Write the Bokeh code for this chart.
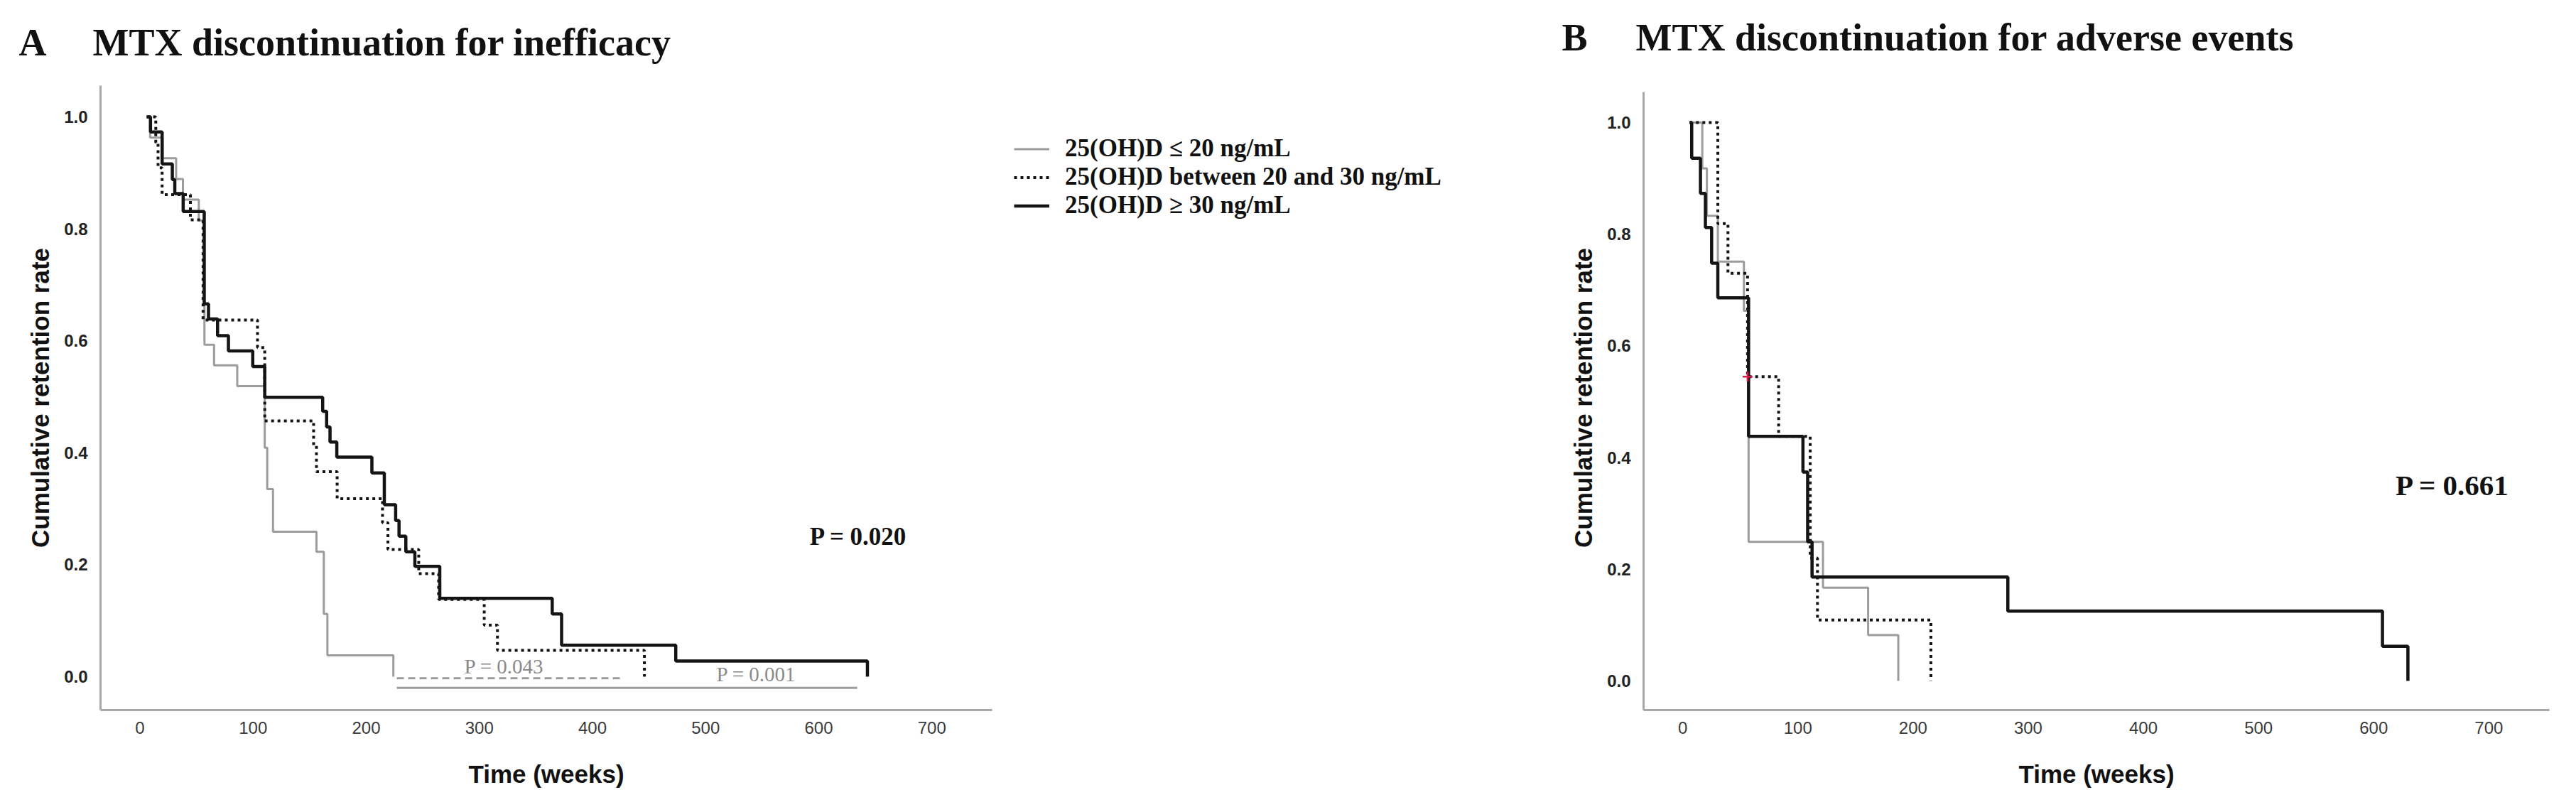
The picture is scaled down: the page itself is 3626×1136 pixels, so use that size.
from bokeh.plotting import figure
from bokeh.layouts import row, column
from bokeh.models import Range1d, FixedTicker, PrintfTickFormatter, Label, Legend, LegendItem
from bokeh.embed import file_html
from bokeh.resources import INLINE

# ---------------- data ----------------
time_ticks = [0, 100, 200, 300, 400, 500, 600, 700]
rate_ticks = [0.0, 0.2, 0.4, 0.6, 0.8, 1.0]
group_labels = ["25(OH)D \u2264 20 ng/mL", "25(OH)D between 20 and 30 ng/mL", "25(OH)D \u2265 30 ng/mL"]

# Panel A: discontinuation for inefficacy (time in weeks, retention rate)
a_low_t = [6, 9, 20, 32, 38, 52, 57, 65.5, 86, 110.3, 112.5, 117.6, 156, 162.5, 165.7, 224]
a_low_s = [1.0, 0.963, 0.926, 0.889, 0.852, 0.815, 0.593, 0.556, 0.519, 0.409, 0.335, 0.259, 0.223, 0.112, 0.038, 0.0]
a_mid_t = [6, 14, 16, 19.6, 44.6, 55.8, 103.9, 110.3, 153.5, 156, 174.3, 214.4, 219.2, 246.4, 264, 304.3, 316, 445.9]
a_mid_s = [1.0, 0.954, 0.909, 0.861, 0.816, 0.637, 0.588, 0.457, 0.413, 0.366, 0.318, 0.275, 0.227, 0.184, 0.138, 0.092, 0.047, 0.0]
a_high_t = [6, 9.3, 19.6, 28.6, 30.8, 38.2, 56.8, 60.6, 68.6, 78.2, 99.7, 110.3, 161.5, 165, 168, 174, 205, 216, 226, 229, 235, 243, 265, 364.4, 372.7, 473.6, 643]
a_high_s = [1.0, 0.973, 0.916, 0.888, 0.863, 0.831, 0.666, 0.639, 0.609, 0.582, 0.554, 0.499, 0.474, 0.446, 0.419, 0.392, 0.364, 0.307, 0.279, 0.251, 0.223, 0.197, 0.140, 0.112, 0.056, 0.028, 0.0]

# Panel A pairwise comparison brackets (start, end, level) and p-values
cmp_low_mid = [227, 426, -0.003]
cmp_low_high = [227, 634, -0.020]
p_overall_a = "P = 0.020"
p_low_mid = "P = 0.043"
p_low_high = "P = 0.001"

# Panel B: discontinuation for adverse events
b_low_t = [6, 17, 21, 30.5, 53.1, 57.2, 121.8, 161, 187.2]
b_low_s = [1.0, 0.918, 0.833, 0.751, 0.663, 0.249, 0.167, 0.082, 0.0]
b_mid_t = [6, 30.5, 39.3, 56.3, 83.3, 110.7, 117, 215.5]
b_mid_s = [1.0, 0.819, 0.730, 0.545, 0.438, 0.220, 0.109, 0.0]
b_high_t = [6, 7.8, 15.4, 19.7, 25.1, 30.5, 57.2, 104.4, 108.5, 112.3, 282.3, 607.6, 629.7]
b_high_s = [1.0, 0.936, 0.873, 0.812, 0.748, 0.686, 0.438, 0.374, 0.249, 0.186, 0.125, 0.062, 0.0]
b_censor_t = [56.3]
b_censor_s = [0.545]
p_overall_b = "P = 0.661"

panel_letters = ["A", "B"]
panel_titles = ["MTX discontinuation for inefficacy", "MTX discontinuation for adverse events"]

# ---------------- geometry (reference pixels) ----------------
A_X0, A_XS, A_Y0, A_YS = 204.5, 1.5925, 960.0, 788.0
B_X0, B_XS, B_Y0, B_YS = 2376.1, 1.6211, 966.0, 786.0
FRAME_TOP, FRAME_BOTTOM = 128, 1007   # frames in a row are aligned by Bokeh


def ax(px):
    return (px - A_X0) / A_XS


def ay(py):
    return (A_Y0 - py) / A_YS


def bx(px):
    return (px - B_X0) / B_XS


def by(py):
    return (B_Y0 - py) / B_YS


GRAY = "#9c9c9c"
BLACK = "#141414"
TOP_BORDER = FRAME_TOP - 108
BOTTOM_BORDER = 1128 - FRAME_BOTTOM


def style(p):
    p.grid.visible = False
    p.outline_line_color = None
    p.background_fill_color = "white"
    p.border_fill_color = "white"
    p.xaxis.ticker = FixedTicker(ticks=time_ticks)
    p.yaxis.ticker = FixedTicker(ticks=rate_ticks)
    p.yaxis.formatter = PrintfTickFormatter(format="%.1f")
    p.xaxis.axis_label = "Time (weeks)"
    p.yaxis.axis_label = "Cumulative retention rate"
    for a in (p.xaxis[0], p.yaxis[0]):
        a.axis_line_color = "#a8a8a8"
        a.axis_line_width = 3
        a.major_tick_line_color = None
        a.minor_tick_line_color = None
        a.major_tick_in = 0
        a.major_tick_out = 0
        a.minor_tick_in = 0
        a.minor_tick_out = 0
        a.major_label_text_font = "Liberation Sans"
        a.major_label_text_font_size = "24px"
        a.axis_label_text_font = "Liberation Sans"
        a.axis_label_text_font_size = "35px"
        a.axis_label_text_font_style = "bold"
        a.axis_label_text_color = "#111111"
    p.xaxis.major_label_text_color = "#3a3a3a"
    p.yaxis.major_label_text_color = "#222222"
    p.yaxis.major_label_text_font_style = "bold"
    p.xaxis.major_label_standoff = 16
    p.yaxis.major_label_standoff = 18
    p.xaxis.axis_label_standoff = 34
    p.yaxis.axis_label_standoff = 11


def bare(p):
    p.grid.visible = False
    p.outline_line_color = None
    p.background_fill_color = "white"
    p.border_fill_color = "white"


def draw_curves(p, low_t, low_s, mid_t, mid_s, high_t, high_s):
    r1 = p.step(low_t, low_s, mode="after", line_color=GRAY, line_width=3)
    r2 = p.step(mid_t, mid_s, mode="after", line_color=BLACK, line_width=4, line_dash="4 5")
    r3 = p.step(high_t, high_s, mode="after", line_color=BLACK, line_width=4.5)
    return r1, r2, r3


def serif_label(p, x, y, text, size, color="#111111", bold=True, align="center", baseline="middle"):
    p.add_layout(Label(x=x, y=y, text=text, text_font="Liberation Serif",
                       text_font_size=size, text_font_style="bold" if bold else "normal",
                       text_color=color, text_align=align, text_baseline=baseline))


# ---------------- title strip (coordinates = reference pixels) ----------------
pT = figure(width=3610, height=100, output_backend="svg", toolbar_location=None, title_location=None,
            x_range=Range1d(8, 3618), y_range=Range1d(108, 8),
            x_axis_location=None, y_axis_location=None, min_border=0)
bare(pT)
serif_label(pT, 34, 67, panel_letters[0], "54px", align="left", baseline="alphabetic")
serif_label(pT, 138, 67, panel_titles[0], "54px", align="left", baseline="alphabetic")
serif_label(pT, 2206, 60, panel_letters[1], "54px", align="left", baseline="alphabetic")
serif_label(pT, 2310, 60, panel_titles[1], "54px", align="left", baseline="alphabetic")

# ---------------- Panel A ----------------
pA = figure(width=1412, height=1020, output_backend="svg", toolbar_location=None, title_location=None,
            x_range=Range1d(ax(149), ax(1404)), y_range=Range1d(ay(FRAME_BOTTOM), ay(FRAME_TOP)),
            min_border_left=141, min_border_right=16,
            min_border_top=TOP_BORDER, min_border_bottom=BOTTOM_BORDER)
style(pA)
draw_curves(pA, a_low_t, a_low_s, a_mid_t, a_mid_s, a_high_t, a_high_s)

pA.line(cmp_low_mid[:2], [cmp_low_mid[2]] * 2, line_color=GRAY, line_width=3, line_dash="10 6")
pA.line(cmp_low_high[:2], [cmp_low_high[2]] * 2, line_color=GRAY, line_width=3)

serif_label(pA, ax(1216), ay(763), p_overall_a, "35px")
serif_label(pA, ax(717), ay(945), p_low_mid, "29px", color="#8a8a8a", bold=False)
serif_label(pA, ax(1072), ay(956), p_low_high, "29px", color="#8a8a8a", bold=False)

# ---------------- legend strip (between the two panels) ----------------
pL = figure(width=730, height=1020, output_backend="svg", toolbar_location=None, title_location=None,
            x_range=Range1d(-2000, -1000), y_range=Range1d(-2, -1),
            x_axis_location=None, y_axis_location=None,
            min_border_left=0, min_border_right=0,
            min_border_top=TOP_BORDER, min_border_bottom=BOTTOM_BORDER)
bare(pL)
rl1, rl2, rl3 = draw_curves(pL, a_low_t, a_low_s, a_mid_t, a_mid_s, a_high_t, a_high_s)
legend = Legend(items=[LegendItem(label=group_labels[0], renderers=[rl1]),
                       LegendItem(label=group_labels[1], renderers=[rl2]),
                       LegendItem(label=group_labels[2], renderers=[rl3])],
                location=(15, 690), padding=0, margin=0, spacing=0,
                glyph_width=50, glyph_height=35, label_height=35, label_standoff=22,
                label_text_font="Liberation Serif", label_text_font_style="bold",
                label_text_font_size="35px", label_text_color="#111111",
                border_line_color=None, background_fill_alpha=0)
pL.add_layout(legend)

# ---------------- Panel B ----------------
pB = figure(width=1468, height=1020, output_backend="svg", toolbar_location=None, title_location=None,
            x_range=Range1d(bx(2321), bx(3596)), y_range=Range1d(by(FRAME_BOTTOM), by(FRAME_TOP)),
            min_border_left=171, min_border_right=22,
            min_border_top=TOP_BORDER, min_border_bottom=BOTTOM_BORDER)
style(pB)
pB.yaxis.bounds = (by(FRAME_BOTTOM), by(137))
draw_curves(pB, b_low_t, b_low_s, b_mid_t, b_mid_s, b_high_t, b_high_s)
pB.scatter(b_censor_t, b_censor_s, marker="cross", size=14, line_color="#d8194a", line_width=2.5)

serif_label(pB, bx(3460), by(690), p_overall_b, "41px")

layout = column(pT, row(pA, pL, pB), spacing=0)
open("out.html", "w").write(file_html(layout, INLINE))
